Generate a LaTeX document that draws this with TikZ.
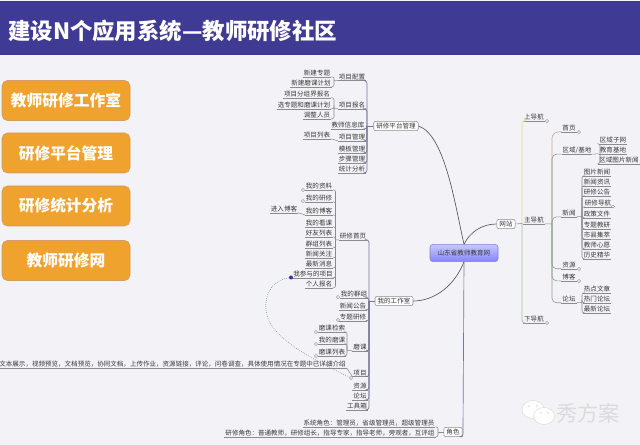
\documentclass[tikz,border=0pt]{standalone}
\usepackage{fontspec}
\setmainfont{Noto Sans CJK SC}
\definecolor{bgc}{HTML}{F3F2F6}
\definecolor{headc}{HTML}{3F3A93}
\definecolor{orangec}{HTML}{F0A22E}
\definecolor{txtc}{HTML}{3A3A3A}
\definecolor{linec}{HTML}{8A8A94}
\definecolor{trunkc}{HTML}{77779A}
\definecolor{greenl}{HTML}{A9C4A6}
\definecolor{navc}{HTML}{8F9C8F}
\definecolor{dashc}{HTML}{7F93A8}
\tikzset{
  x=0.75pt,y=-0.75pt,
  leaf/.style={font=\fontsize{4.9}{5}\selectfont,text=txtc,inner xsep=0.6pt,inner ysep=0.4pt,
    append after command={(\tikzlastnode.south west) edge[uline] (\tikzlastnode.south east)}},
  uline/.style={draw=linec,line width=0.35pt},
  conn/.style={draw=linec,line width=0.4pt,rounded corners=1.5pt},
  trunk/.style={draw=trunkc,line width=0.5pt,rounded corners=2pt},
  navline/.style={draw=navc,line width=0.45pt,rounded corners=3.5pt},
  boxed/.style={draw=linec,fill=white,rounded corners=1.5pt,line width=0.4pt,font=\fontsize{4.9}{5}\selectfont,text=txtc,inner xsep=2pt,inner ysep=1.2pt},
  btn/.style={draw=orange!70!black!60,fill=orangec,rounded corners=4pt,text=white,font=\fontsize{11.8}{12}\bfseries\selectfont,minimum width=96pt,minimum height=30pt,inner sep=0pt},
  mark dot/.style={circle,draw=linec,fill=bgc,inner sep=0pt,minimum size=2.4pt,line width=0.3pt},
}
\begin{document}
\begin{tikzpicture}
\useasboundingbox (0,0) rectangle (640,445);
\fill[bgc] (0,0) rectangle (640,445);
\fill[headc] (0,1) rectangle (640,55);
\node[text=white,font=\fontsize{16.8}{18}\bfseries\selectfont,anchor=west,inner sep=0pt] (title) at (8,31) {建设N个应用系统—教师研修社区};
% left buttons
\node[btn] (b1) at (66,100.5) {教师研修工作室};
\node[btn] (b2) at (66,153) {研修平台管理};
\node[btn] (b3) at (66,206) {研修统计分析};
\node[btn] (b4) at (66,260.5) {教师研修网};
% centre
\node[draw=blue!40!gray!70,rounded corners=2pt,top color=blue!22!white,bottom color=blue!48!white,minimum width=51pt,minimum height=12.8pt,inner sep=0pt,font=\fontsize{4.9}{5}\selectfont,text=txtc] (root) at (464,253) {山东省教师教育网};
\node[boxed] (pm) at (396,126) {研修平台管理};
\node[boxed] (ws) at (394,301) {我的工作室};
\node[boxed] (web) at (506,224) {网站};
\node[boxed] (role) at (453,432) {角色};
% platform group
\node[leaf] (a1) at (352,77) {项目配置};
\node[leaf] (a2) at (352,105) {项目报名};
\node[leaf] (a3) at (348,125) {教师信息库};
\node[leaf] (a4) at (352,137) {项目管理};
\node[leaf] (a5) at (352,149) {模板管理};
\node[leaf] (a6) at (352,159) {步骤管理};
\node[leaf] (a7) at (352,169) {统计分析};
\node[leaf] (a11) at (317,73) {新建专题};
\node[leaf] (a12) at (311,83) {新建磨课计划};
\node[leaf] (a21) at (307,94) {项目分组界报名};
\node[leaf] (a22) at (304,105) {选专题和磨课计划};
\node[leaf] (a23) at (317,115) {调整人员};
\node[leaf] (a41) at (317,135) {项目列表};
\coordinate (t1) at (367,126);
\coordinate (ba1) at (334,80.5);
\coordinate (ba2) at (334,108.5);
\foreach \c in {a1,a2,a3,a4,a5,a6,a7}{\draw[trunk] (\c.south east) -| (t1);}
\draw[trunk] (t1) -- (pm.west);
\foreach \c in {a11,a12}{\draw[conn] (\c.south east) -| (ba1);}
\draw[conn] (ba1) -- (a1.south west);
\foreach \c in {a21,a22,a23}{\draw[conn] (\c.south east) -| (ba2);}
\draw[conn] (ba2) -- (a2.south west);
\draw[conn] (a41.south east) -- (a4.south west);
% workroom group
\node[leaf] (s0) at (353,236) {研修首页};
\node[leaf] (s1) at (319,186) {我的资料};
\node[leaf] (s2) at (319,198) {我的研修};
\node[leaf] (s3) at (319,211) {我的博客};
\node[leaf] (s3a) at (284,209) {进入博客};
\node[leaf] (s4) at (319,223) {我的看课};
\node[leaf] (s5) at (319,233) {好友列表};
\node[leaf] (s6) at (319,244) {群组列表};
\node[leaf] (s7) at (319,254) {新闻关注};
\node[leaf] (s8) at (319,264) {最新消息};
\node[leaf] (s9) at (313,274) {我参与的项目};
\node[leaf] (s10) at (319,284) {个人报名};
\node[leaf] (w1) at (354,294) {我的群组};
\node[leaf] (w2) at (353,306) {新闻公告};
\node[leaf] (w3) at (353,317) {专题研修};
\node[leaf] (m0) at (360,347) {磨课};
\node[leaf] (m1) at (332,328) {磨课检索};
\node[leaf] (m2) at (332,340) {我的磨课};
\node[leaf] (m3) at (332,352) {磨课列表};
\node[leaf] (long) at (172.5,364) {文本展示，视频预览，文档预览，协同文档，上传作业，资源链接，评论，问卷调查，具体使用情况在专题中已详细介绍};
\node[leaf] (w4) at (360,373) {项目};
\node[leaf] (w5) at (360,386) {资源};
\node[leaf] (w6) at (360,396) {论坛};
\node[leaf] (w7) at (357,406) {工具箱};
\coordinate (t2) at (369,301);
\coordinate (bs) at (335.5,240);
\coordinate (bm) at (347,350.5);
\foreach \c in {s0,w1,w2,w3,m0,w4,w5,w6,w7}{\draw[trunk] (\c.south east) -| (t2);}
\draw[trunk] (t2) -- (ws.west);
\foreach \c in {s1,s2,s3,s4,s5,s6,s7,s8,s9,s10}{\draw[conn] (\c.south east) -| (bs);}
\draw[conn] (bs) -- (s0.south west);
\draw[conn] (s3a.south east) -- (s3.south west);
\foreach \c in {m1,m2,m3}{\draw[conn] (\c.south east) -| (bm);}
\draw[conn] (bm) -- (m0.south west);
\draw[conn] (long.south east) -- (w4.south west);
% role group
\node[leaf] (r1) at (369,423) {系统角色：管理员，省级管理员，超级管理员};
\node[leaf] (r2) at (330,433) {研修角色：普通教师，研修组长，指导专家，指导老师，旁观者，互评组};
\coordinate (br) at (438,432);
\foreach \c in {r1,r2}{\draw[conn] (\c.south east) -| (br);}
\draw[conn] (br) -- (role.west);
% markers and dashed link
\node[mark dot] (d1) at (303,190) {};
\node[mark dot] (d2) at (303,201) {};
\node[mark dot] (d3) at (338,297) {};
\node[mark dot] (d4) at (338,320) {};
\node[mark dot] (d5) at (316,332) {};
\node[mark dot] (d6) at (316,344) {};
\node[mark dot] (d7) at (316,356) {};
\node[mark dot] (d8) at (351,378) {};
\node[circle,fill=blue!55!black!80,inner sep=0pt,minimum size=3pt] (d9) at (291,277.5) {};
\draw[dashc,densely dotted,line width=0.5pt] (d9) .. controls (268,281) and (262,302) .. (268,318) .. controls (276,340) and (310,358) .. (d8);
% main curves
\draw[draw=black!65,line width=0.5pt] (root.north) .. controls (455,205) and (445,135) .. (pm.east);
\draw[draw=black!65,line width=0.5pt] (root.south) .. controls (455,285) and (435,301) .. (ws.east);
\draw[draw=black!65,line width=0.5pt] (root.north) .. controls (470,232) and (482,224) .. (web.west);
\draw[trunk] (root.south) -- (463,431) -- (463,437) -- (role.south east);
% navigation
\node[leaf] (n1) at (534,117) {上导航};
\node[leaf] (n2) at (534,220) {主导航};
\node[leaf] (n3) at (534,319) {下导航};
\coordinate (tn) at (522,223.5);
\draw[draw=linec,line width=0.4pt] (web.east) -- (tn);
\draw[draw=yellow!60!gray!60,line width=0.6pt,rounded corners=2pt] (n1.south west) -| (tn);
\draw[draw=greenl,line width=0.6pt,rounded corners=2pt] (n3.south west) -| (tn);
\draw[draw=greenl,line width=0.4pt] (tn) -- (n2.south west);
\node[leaf] (h1) at (569,128) {首页};
\node[leaf] (h2) at (577,150) {区域/基地};
\node[leaf] (h3) at (569,213) {新闻};
\node[leaf] (h4) at (569,265) {资源};
\node[leaf] (h5) at (569,277) {博客};
\node[leaf] (h6) at (569,299) {论坛};
\coordinate (tm) at (552,224);
\draw[draw=linec,line width=0.4pt] (n2.south east) -- (tm);
\draw[draw=pink!60!gray,line width=0.5pt,rounded corners=5pt] (h1.south west) -| (tm);
\foreach \c in {h2,h3,h4,h5,h6}{\draw[navline] (\c.south west) -| (tm);}
\node[leaf] (k1) at (613,140) {区域子网};
\node[leaf] (k2) at (613,150) {教育基地};
\node[leaf] (k3) at (619,160) {区域图片新闻};
\coordinate (bk) at (600,153.5);
\foreach \c in {k1,k3}{\draw[conn] (\c.south west) -| (bk);}
\draw[conn] (h2.south east) -- (k2.south west);
\node[leaf] (q1) at (597,172) {图片新闻};
\node[leaf] (q2) at (597,182) {新闻资讯};
\node[leaf] (q3) at (597,192) {研修公告};
\node[leaf] (q4) at (598,203) {研修导航};
\node[leaf] (q5) at (597,214) {政策文件};
\node[leaf] (q6) at (597,225) {专题教研};
\node[leaf] (q7) at (597,235) {市县集萃};
\node[leaf] (q8) at (597,245) {教师心愿};
\node[leaf] (q9) at (597,255) {历史精华};
\coordinate (bq) at (582,216.5);
\foreach \c in {q1,q2,q3,q4,q5,q6,q7,q8,q9}{\draw[conn] (\c.south west) -| (bq);}
\draw[conn] (h3.south east) -- (bq);
\node[leaf] (f1) at (597,289) {热点文章};
\node[leaf] (f2) at (597,299) {热门论坛};
\node[leaf] (f3) at (597,309) {最新论坛};
\coordinate (bf) at (582,302.5);
\foreach \c in {f1,f2,f3}{\draw[conn] (\c.south west) -| (bf);}
\draw[conn] (h6.south east) -- (bf);
\node[mark dot] (e1) at (579,132) {};
\node[mark dot] (e2) at (613,206.5) {};
\node[mark dot] (e3) at (579,269) {};
\node[mark dot] (e4) at (579,281) {};
\node[mark dot] (e5) at (547,121) {};
\node[mark dot] (e6) at (547,323) {};
% watermark
\fill[white,draw=black!20,line width=0.2pt] (533,409.5) ellipse [x radius=11,y radius=9];
\fill[white,draw=black!20,line width=0.2pt] (544,416) ellipse [x radius=10.5,y radius=8.5];
\fill[black!35] (529,406) circle [radius=0.7] (537,406) circle [radius=0.7] (541,413) circle [radius=0.7] (548,413) circle [radius=0.7];
\node[text=black!14,font=\fontsize{16}{17}\selectfont,inner sep=0pt] (wm) at (588,413) {秀方案};
\end{tikzpicture}
\end{document}
